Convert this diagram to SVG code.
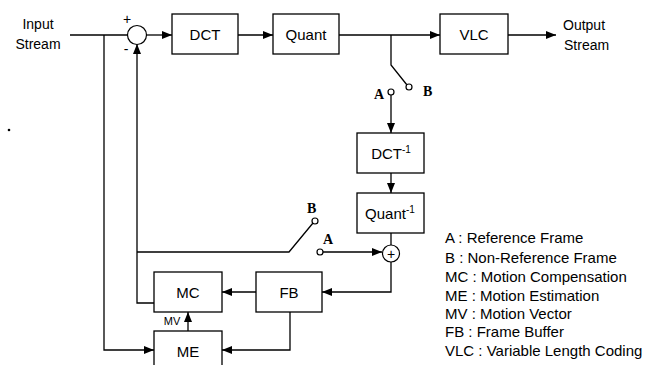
<svg xmlns="http://www.w3.org/2000/svg" width="654" height="365" viewBox="0 0 654 365">
<defs>
<marker id="ah" markerWidth="10" markerHeight="8" refX="10" refY="4" orient="auto" markerUnits="userSpaceOnUse">
<path d="M0,0 L10,4 L0,8 Z" fill="#000"/>
</marker>
<style>
.box{fill:#fff;stroke:#000;stroke-width:1.3}
.ln{fill:none;stroke:#000;stroke-width:1.3}
.arr{fill:none;stroke:#000;stroke-width:1.3;marker-end:url(#ah)}
.t{font-family:"Liberation Sans",Arial,sans-serif;font-size:15px;fill:#000}
.lbl{font-family:"Liberation Sans",Arial,sans-serif;font-size:14px;fill:#000}
.sw{font-family:"Liberation Serif","Times New Roman",serif;font-size:14px;font-weight:bold;fill:#000}
.ct{fill:#fff;stroke:#000;stroke-width:1.2}
.leg{font-family:"Liberation Sans",Arial,sans-serif;font-size:15px;fill:#000}
</style>
</defs>
<rect width="654" height="365" fill="#fff"/>

<g id="connectors">
<line class="ln" x1="70" y1="35" x2="128" y2="35"/>
<line class="arr" x1="146" y1="35" x2="172" y2="35"/>
<line class="arr" x1="238" y1="35" x2="273" y2="35"/>
<line class="arr" x1="339" y1="35" x2="440" y2="35"/>
<line class="arr" x1="508" y1="35" x2="556" y2="35"/>
<polyline class="ln" points="391,35 391,65 407,85"/>
<line class="arr" x1="391" y1="95" x2="391" y2="133"/>
<line class="arr" x1="391" y1="173" x2="391" y2="193"/>
<line class="ln" x1="391" y1="233" x2="391" y2="245"/>
<line class="arr" x1="323" y1="252" x2="382" y2="252"/>
<polyline class="arr" points="391,262 391,292 322,292"/>
<line class="arr" x1="256" y1="292" x2="222" y2="292"/>
<polyline class="arr" points="290,312 290,350 222,350"/>
<polyline class="arr" points="104,35 104,350 154,350"/>
<line class="arr" x1="188" y1="331" x2="188" y2="312"/>
<polyline class="arr" points="154,303 137,303 137,44"/>
<polyline class="ln" points="137,252 289,252 313,223"/>
</g>

<g id="sum1">
<circle cx="137" cy="35" r="9.5" class="ct"/>
<text x="127" y="24" class="lbl" text-anchor="middle">+</text>
<text x="126" y="54" class="lbl" text-anchor="middle">-</text>
</g>

<g id="dct"><rect x="172" y="14" width="66" height="40" class="box"/><text x="205" y="40" class="t" text-anchor="middle">DCT</text></g>
<g id="quant"><rect x="273" y="14" width="66" height="40" class="box"/><text x="306" y="40" class="t" text-anchor="middle">Quant</text></g>
<g id="vlc"><rect x="440" y="14" width="68" height="40" class="box"/><text x="474" y="40" class="t" text-anchor="middle">VLC</text></g>

<g id="input"><text x="38" y="29" class="lbl" text-anchor="middle">Input</text><text x="38" y="49" class="lbl" text-anchor="middle">Stream</text></g>
<g id="output"><text x="563" y="30" class="lbl">Output</text><text x="564" y="50" class="lbl">Stream</text></g>

<g id="switch1">
<circle cx="409" cy="87" r="3" class="ct"/>
<circle cx="391" cy="92" r="3" class="ct"/>
<text x="423" y="96" class="sw">B</text>
<text x="374" y="99" class="sw">A</text>
</g>

<g id="idct"><rect x="357" y="133" width="67" height="40" class="box"/><text x="391" y="159" class="t" text-anchor="middle">DCT<tspan font-size="10" dy="-6">-1</tspan></text></g>
<g id="iquant"><rect x="357" y="193" width="67" height="40" class="box"/><text x="390" y="219" class="t" text-anchor="middle">Quant<tspan font-size="10" dy="-6">-1</tspan></text></g>

<g id="sum2">
<circle cx="391" cy="253.5" r="8.5" class="ct"/>
<text x="391" y="258.5" class="lbl" text-anchor="middle">+</text>
</g>

<g id="switch2">
<circle cx="315" cy="221" r="3" class="ct"/>
<circle cx="320" cy="252" r="3" class="ct"/>
<text x="307" y="213" class="sw">B</text>
<text x="323" y="244" class="sw">A</text>
</g>

<g id="mc"><rect x="154" y="272" width="68" height="40" class="box"/><text x="188" y="298" class="t" text-anchor="middle">MC</text></g>
<g id="fb"><rect x="256" y="272" width="66" height="40" class="box"/><text x="289" y="298" class="t" text-anchor="middle">FB</text></g>
<g id="me"><rect x="154" y="331" width="68" height="40" class="box"/><text x="188" y="357" class="t" text-anchor="middle">ME</text></g>
<text x="172" y="325" font-family="Liberation Sans,Arial,sans-serif" font-size="11" text-anchor="middle">MV</text>

<circle cx="9" cy="130" r="1.3" fill="#000"/>

<g id="legend">
<text x="445" y="243" class="leg">A : Reference Frame</text>
<text x="445" y="263" class="leg">B : Non-Reference Frame</text>
<text x="445" y="282" class="leg">MC : Motion Compensation</text>
<text x="445" y="301" class="leg">ME : Motion Estimation</text>
<text x="445" y="319" class="leg">MV : Motion Vector</text>
<text x="445" y="337" class="leg">FB : Frame Buffer</text>
<text x="445" y="356" class="leg">VLC : Variable Length Coding</text>
</g>
</svg>
